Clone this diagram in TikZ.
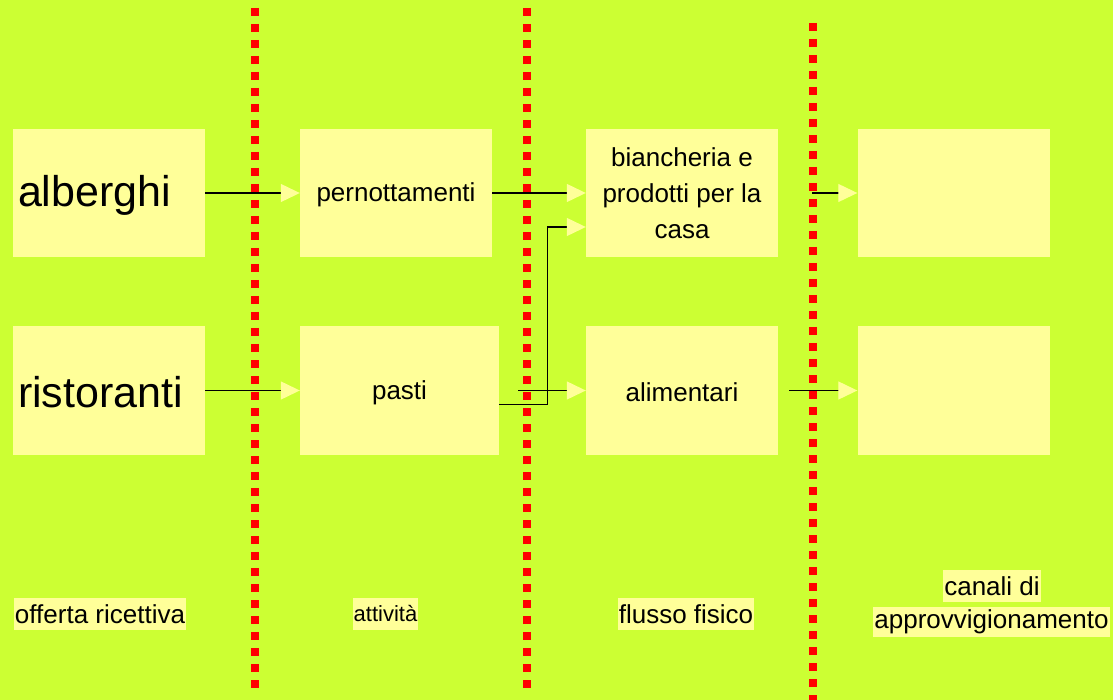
\documentclass[tikz,border=0pt]{standalone}
\usepackage{fontspec}
\setmainfont{Liberation Sans}
\usetikzlibrary{arrows.meta,calc}
\definecolor{lime}{HTML}{CCFF33}
\definecolor{pale}{HTML}{FFFF99}
\newcommand{\lowtext}[1]{\raisebox{-2pt}[\height][\depth]{#1}}
\tikzset{box/.style={fill=pale, minimum width=192pt, minimum height=128pt, inner sep=0pt, align=center, font=\fontsize{26}{36}\selectfont},
bigbox/.style={box, text width=182pt, align=left, font=\fontsize{43}{50}\selectfont},
divider/.style={red, line width=8pt, dash pattern=on 8pt off 8pt},
%arrow head is pale, the line stays black
flow/.style={-{Triangle[length=19pt, width=18pt, color=pale]}, black, line width=1.2pt},
tag/.style={fill=pale, inner xsep=1pt, inner ysep=0pt, minimum height=32pt, font=\fontsize{26}{30}\selectfont}}

\begin{document}
\begin{tikzpicture}[x=1pt, y=-1pt]

\fill[lime] (0,0) rectangle (1113,700);
\useasboundingbox (0,0) rectangle (1113,700);

\foreach \x/\top/\bot in {255/8/688, 526.5/8/688, 813/23/700}
    \draw[divider] (\x,\top) -- (\x,\bot);

\node[bigbox] (alberghi) at (109,193) {\lowtext{alberghi}};
\node[bigbox] (ristoranti) at (109,390.5) {\lowtext{ristoranti}};

\node[box] (pernottamenti) at (396,193) {\lowtext{pernottamenti}};
\node[box, minimum width=199pt] (pasti) at (399.5,390.5) {\lowtext{pasti}};

\node[box] (biancheria) at (682,193) {biancheria e\\prodotti per la\\casa};
\node[box] (alimentari) at (682,390.5) {\lowtext{alimentari}};

\node[box] (canale1) at (953.5,193) {};
\node[box] (canale2) at (953.5,390.5) {};

\node[tag] (offerta) at (100,614) {offerta ricettiva};
\node[tag, font=\fontsize{22}{26}\selectfont] (attivita) at (385.5,614) {attività};
\node[tag] (flusso) at (686,614) {flusso fisico};
\node[tag] (canali) at (992,586) {canali di\ };
\node[tag, minimum height=30pt] (approv) at (991.5,622) {approvvigionamento};

\draw[flow] (alberghi) -- (pernottamenti);
\draw[flow] (ristoranti) -- (pasti);
\draw[flow] (pernottamenti) -- (biancheria);
\draw[flow] ($(pasti.east)+(0,14)$) -| ($(biancheria.west)+(-38,34)$) -- ($(biancheria.west)+(0,34)$);
\draw[flow] ($(pasti.east)+(19,0)$) -- (alimentari);
\draw[flow] ($(biancheria.east)+(34,0)$) -- (canale1);
\draw[flow] ($(alimentari.east)+(11,0)$) -- (canale2);

\end{tikzpicture}
\end{document}
